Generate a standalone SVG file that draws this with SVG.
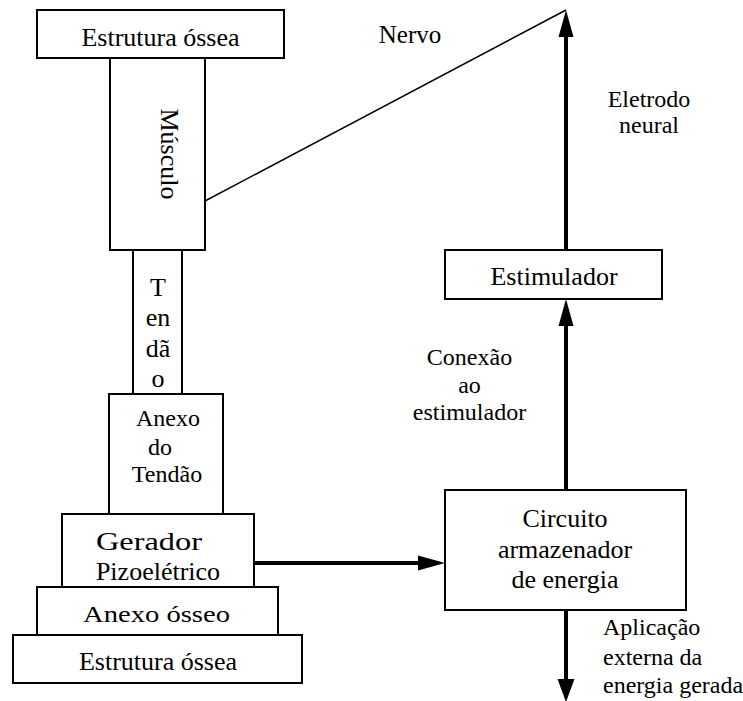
<svg xmlns="http://www.w3.org/2000/svg" width="743" height="701" viewBox="0 0 743 701">
<style>
.box{fill:#fff;stroke:#000;stroke-width:2}
.t{font-family:"Liberation Serif","Times New Roman",serif;font-size:26px;fill:#000;text-anchor:middle}
.s{font-size:24px}
.l{text-anchor:start}
.conn{stroke:#000;stroke-width:4;fill:none}
.thin{stroke:#000;stroke-width:1.5;fill:none}
.head{fill:#000}
</style>
<rect width="743" height="701" fill="#fff"/>
<g id="connectors">
<line class="thin" x1="205" y1="201" x2="566" y2="10"/>
<line class="conn" x1="566" y1="250" x2="566" y2="34"/>
<polygon class="head" points="566,10 558.5,37 573.5,37"/>
<line class="conn" x1="566" y1="490" x2="566" y2="322"/>
<polygon class="head" points="566,299 558.5,326 573.5,326"/>
<line class="conn" x1="254" y1="563" x2="421" y2="563"/>
<polygon class="head" points="445,563 418,555.5 418,570.5"/>
<line class="conn" x1="566" y1="610" x2="566" y2="683"/>
<polygon class="head" points="566,702 557.5,679 574.5,679"/>
</g>
<g id="labels">
<text class="t" x="410" y="43" style="font-size:25px">Nervo</text>
<text class="t s" x="649" y="107">Eletrodo</text>
<text class="t s" x="649" y="133">neural</text>
<text class="t s" x="469.5" y="365">Conexão</text>
<text class="t s" x="469.5" y="393">ao</text>
<text class="t s" x="469.5" y="420">estimulador</text>
<text class="t s l" x="603" y="635">Aplicação</text>
<text class="t s l" x="603" y="665">externa da</text>
<text class="t s l" x="603" y="693">energia gerada</text>
</g>
<g id="estrutura-ossea-top">
<rect class="box" x="37" y="10" width="247" height="48"/>
<text class="t" x="160.5" y="46">Estrutura óssea</text>
</g>
<g id="musculo">
<rect class="box" x="110" y="58" width="95" height="192"/>
<text class="t" transform="translate(161,154) rotate(90)">Músculo</text>
</g>
<g id="tendao">
<rect class="box" x="133" y="250" width="49" height="144"/>
<text class="t" x="158" y="296">T</text>
<text class="t" x="158" y="326">en</text>
<text class="t" x="158" y="357">dã</text>
<text class="t" x="158" y="387">o</text>
</g>
<g id="anexo-tendao">
<rect class="box" x="109" y="394" width="114" height="120"/>
<text class="t s" x="168" y="426">Anexo</text>
<text class="t s" x="160" y="455">do</text>
<text class="t s" x="167" y="482">Tendão</text>
</g>
<g id="gerador">
<rect class="box" x="62" y="514" width="192" height="73"/>
<text class="t" x="149" y="550" textLength="106" lengthAdjust="spacingAndGlyphs">Gerador</text>
<text class="t" x="158" y="580">Pizoelétrico</text>
</g>
<g id="anexo-osseo">
<rect class="box" x="37" y="587" width="241" height="48"/>
<text class="t s" x="156.5" y="622" textLength="147" lengthAdjust="spacingAndGlyphs">Anexo ósseo</text>
</g>
<g id="estrutura-ossea-bottom">
<rect class="box" x="13" y="635" width="289" height="48"/>
<text class="t" x="158" y="670">Estrutura óssea</text>
</g>
<g id="estimulador">
<rect class="box" x="445" y="250" width="217" height="49"/>
<text class="t" x="554" y="285">Estimulador</text>
</g>
<g id="circuito">
<rect class="box" x="445" y="490" width="241" height="120"/>
<text class="t" x="565" y="527">Circuito</text>
<text class="t" x="565" y="558">armazenador</text>
<text class="t" x="565" y="588">de energia</text>
</g>
</svg>
